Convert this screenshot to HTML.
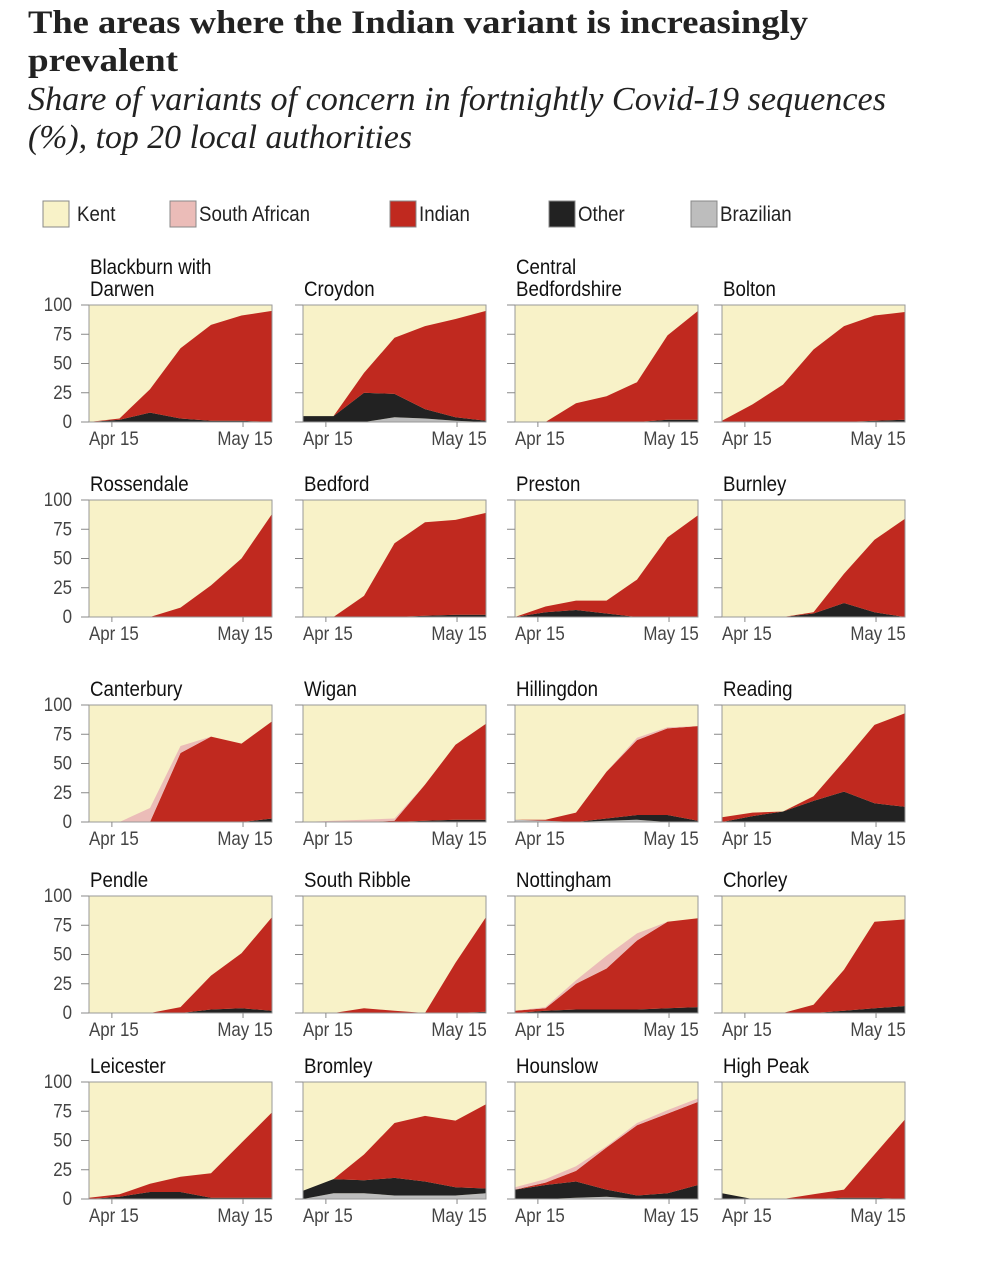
<!DOCTYPE html>
<html><head><meta charset="utf-8">
<style>
body{margin:0;background:#fff;width:986px;height:1264px;overflow:hidden;}
svg{display:block}
.t{font-family:"Liberation Serif",serif;fill:#222}
.s{font-family:"Liberation Sans Narrow","Liberation Sans",sans-serif}
</style></head><body>
<svg id="c" width="986" height="1264">
<text class="t" x="28" y="33" font-size="33" font-weight="bold" textLength="780" lengthAdjust="spacingAndGlyphs">The areas where the Indian variant is increasingly</text>
<text class="t" x="28" y="71" font-size="33" font-weight="bold" textLength="150" lengthAdjust="spacingAndGlyphs">prevalent</text>
<text class="t" x="28" y="110" font-size="34" font-style="italic" textLength="858" lengthAdjust="spacingAndGlyphs">Share of variants of concern in fortnightly Covid-19 sequences</text>
<text class="t" x="28" y="148" font-size="34" font-style="italic" textLength="384" lengthAdjust="spacingAndGlyphs">(%), top 20 local authorities</text>
<g id="legend"></g>
<g id="panels"></g>
</svg>
<script>
const NS="http://www.w3.org/2000/svg";
const colors={kent:"#f8f2c8",sa:"#ebbcb8",indian:"#c0291f",other:"#222222",brazilian:"#bdbdbd"};
const legendLabels=["Kent","South African","Indian","Other","Brazilian"];
const legendKeys=["kent","sa","indian","other","brazilian"];
const legendX=[43,170,390,549,691];
const names=["Blackburn with|Darwen","Croydon","Central|Bedfordshire","Bolton","Rossendale","Bedford","Preston","Burnley","Canterbury","Wigan","Hillingdon","Reading","Pendle","South Ribble","Nottingham","Chorley","Leicester","Bromley","Hounslow","High Peak"];
const xTickLabels=["Apr 15","May 15"];
const xTickIdx=[0.75,5.05];
const yTicks=[0,25,50,75,100];
// series values (%) per area, 7 weekly points
const brazilian=[
[0,0,0,0,0,0,0],[0,0,0,4,3,1,0],[0,0,0,0,0,0,0],[0,0,0,0,0,0,0],
[0,0,0,0,0,0,0],[0,0,0,0,0,0,0],[0,0,0,0,0,0,0],[0,0,0,0,0,0,0],
[0,0,0,0,0,0,0],[0,0,0,0,0,0,0],[2,1,0,1,2,0,0],[0,0,0,0,0,0,0],
[0,0,0,0,0,0,0],[0,0,0,0,0,0,0],[0,0,0,0,0,0,0],[0,0,0,0,0,0,0],
[0,0,0,0,0,0,0],[0,5,5,3,3,3,5],[0,0,1,2,0,0,0],[0,0,0,0,0,0,0]];
const other=[
[0,2,8,3,1,1,0],[5,5,25,20,8,3,1],[0,0,0,0,0,2,2],[0,0,0,0,0,1,2],
[0,0,0,0,0,0,0],[0,0,0,0,1,2,2],[0,4,6,3,0,0,0],[0,0,0,3,12,4,0],
[0,0,0,0,0,0,3],[0,0,0,0,1,2,2],[0,0,0,2,4,6,1],[0,5,9,18,26,16,13],
[0,0,0,0,3,4,2],[0,0,0,0,0,0,1],[0,2,3,3,3,4,5],[0,0,0,0,2,4,6],
[0,2,6,6,1,1,1],[7,12,11,15,12,7,4],[8,12,14,6,3,5,12],[5,0,0,0,1,1,0]];
const indian=[
[0,1,20,60,82,90,95],[0,0,17,48,71,84,94],[0,0,16,22,34,72,93],[1,15,32,62,82,90,92],
[0,0,0,8,27,50,88],[0,0,18,63,80,81,87],[0,5,8,11,32,68,87],[0,0,0,1,25,62,84],
[0,0,0,59,73,67,83],[0,0,0,1,31,64,82],[0,1,8,40,64,74,81],[4,3,0,4,26,67,80],
[0,0,0,5,29,47,80],[0,0,4,2,0,43,81],[2,2,22,35,59,74,76],[0,0,0,7,35,74,74],
[1,2,7,13,21,47,73],[0,0,22,47,56,57,72],[0,2,9,36,60,68,71],[0,0,0,4,7,37,68]];
const southAfrican=[
[0,0,0,0,0,0,0],[0,0,0,0,0,0,0],[0,0,0,0,0,0,0],[0,0,0,0,0,0,0],
[0,0,0,0,0,0,0],[0,0,0,0,0,0,0],[0,0,0,0,0,0,0],[0,0,0,0,0,0,0],
[0,0,12,6,0,0,0],[0,1,2,2,0,0,0],[0,0,0,0,2,1,0],[0,0,0,0,0,0,0],
[0,0,0,0,0,0,0],[0,0,0,0,0,0,0],[0,1,3,11,6,0,0],[0,0,0,0,0,0,0],
[0,0,0,0,0,0,0],[0,0,0,0,0,0,0],[2,3,4,1,2,3,3],[0,0,0,0,0,0,0]];

const colX=[89,303,515,722], rowY=[305,500,705,896,1082], PW=183, PH=117;
const SX=0.89;
function el(tag,attrs,parent){const e=document.createElementNS(NS,tag);for(const k in attrs)e.setAttribute(k,attrs[k]);parent.appendChild(e);return e;}
function txt(x,y,attrs,parent,s){
  const t=el('text',Object.assign({x:0,y:0,class:"s",transform:`translate(${x},${y}) scale(${SX},1)`},attrs),parent);
  t.textContent=s;return t;
}

const lg=document.getElementById('legend');
legendLabels.forEach((lab,i)=>{
  const r=el('rect',{x:legendX[i],y:201,width:26,height:26,fill:colors[legendKeys[i]],stroke:"#888","stroke-width":1},lg);
  
  
  const t=txt(legendX[i]+(i===0?34:29),221,{"font-size":21,fill:"#222"},lg,lab);
  
  
});

const pg=document.getElementById('panels');
names.forEach((nm,p)=>{
  const c=p%4,r=Math.floor(p/4),x0=colX[c],y0=rowY[r];
  const g=el('g',{},pg);
  
  
  const xs=i=>x0+i*PW/6, ys=v=>y0+PH-v*PH/100;
  const lines=nm.split('|');
  lines.forEach((ln,k)=>{
    const t=txt(x0+1,y0-9-(lines.length-1-k)*22,{"font-size":21,fill:"#111"},g,ln);
    
    
  });
  const bg=el('rect',{x:x0,y:y0,width:PW,height:PH,fill:colors.kent},g);
  
  
  const series=[["brazilian",brazilian[p]],["other",other[p]],["indian",indian[p]],["sa",southAfrican[p]]];
  let base=[0,0,0,0,0,0,0];
  series.forEach(([key,vals])=>{
    const top=base.map((b,i)=>b+vals[i]);
    let d="M"+top.map((v,i)=>xs(i).toFixed(1)+","+ys(v).toFixed(1)).join("L");
    for(let i=6;i>=0;i--)d+="L"+xs(i).toFixed(1)+","+ys(base[i]).toFixed(1);
    const a=el('path',{d:d+"Z",fill:colors[key]},g);
    
    
    base=top;
  });
  el('rect',{x:x0,y:y0,width:PW,height:PH,fill:"none",stroke:"#999","stroke-width":1},g);
  yTicks.forEach(v=>{
    el('line',{x1:x0-8,x2:x0,y1:ys(v),y2:ys(v),stroke:"#888","stroke-width":1},g);
    if(c===0){
      const t=txt(x0-17,ys(v)+6,{"font-size":19,fill:"#444","text-anchor":"end"},g,v);
      
      
    }
  });
  xTickLabels.forEach((lab,k)=>{
    const tx=xs(xTickIdx[k]);
    el('line',{x1:tx,x2:tx,y1:y0+PH,y2:y0+PH+5,stroke:"#888"},g);
    const t=txt(tx+2,y0+PH+23,{"font-size":19,fill:"#444","text-anchor":"middle"},g,lab);
    
    
  });
});
</script>
</body></html>
